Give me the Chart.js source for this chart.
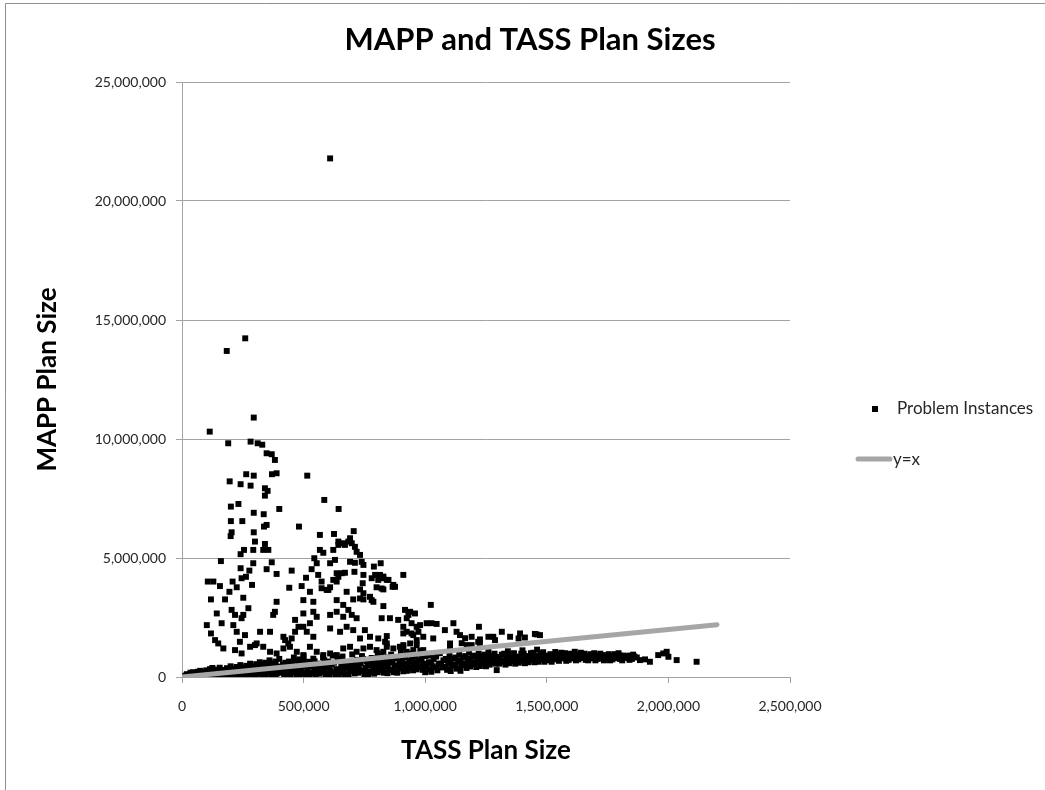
<!DOCTYPE html>
<html>
<head>
<meta charset="utf-8">
<title>MAPP and TASS Plan Sizes</title>
<script src="https://cdn.jsdelivr.net/npm/chart.js@4.4.1/dist/chart.umd.min.js"></script>
<style>
  html, body { margin: 0; padding: 0; background: #fff; }
  #chart { display: block; }
</style>
</head>
<body>
<canvas id="chart" width="1045" height="790"></canvas>
<script>
// Pontos, em milhares: [TASS plan size, MAPP plan size]
const outlierPoints = [[609,21790],[260,14230],[184,13700],[295,10900],[114,10310]];

const upperCluster = [
  [190,9820],[282,9890],[311,9820],[330,9760],[348,9400],[369,9360],[382,9120],
  [264,8520],[295,8460],[370,8520],[389,8560],[515,8460],[196,8220],[241,8100],[282,8040],
  [341,7930],[352,7820],[341,7620],[585,7440],[201,7160],[232,7270],[400,7060],[644,7060],
  [295,6900],[336,6840],[201,6550],[248,6550],[348,6390],[337,6320],[481,6320],
  [204,6080],[200,5920],[295,6080],[567,5970],[625,6010],[706,6130],
  [643,5690],[663,5620],[643,5550],[691,5830],[698,5620],[670,5550],[684,5690],
  [300,5690],[341,5590],[293,5340],[334,5340],[355,5340],[255,5340],[241,5160],
  [567,5340],[581,5220],[622,5340],[711,5470],[718,5260],[732,5130]
];

const midCluster = [
  [160,4870],[544,4990],[554,4780],[609,4780],[629,4920],[691,4840],[711,4800],[739,4840],[746,4710],
  [293,4780],[369,4820],[817,4780],[789,4640],[241,4570],[277,4470],[263,4210],[245,4150],
  [348,4530],[389,4330],[451,4470],[533,4530],[560,4290],[574,4010],[636,4360],[657,4360],[670,4380],
  [622,4080],[636,4010],[709,4420],[746,4290],[780,4150],[794,4290],[807,4080],[828,4220],[849,4080],
  [910,4290],[814,4290],[828,4150],[510,4170],[643,4210],[743,3940],[842,4080],[602,3660],
  [106,4010],[129,4010],[156,3820],[208,4010],[225,3770],[195,3580],[288,3870],[441,3750],[492,3820],
  [574,3730],[595,3660],[609,3770],[526,3580],[677,3580],[732,3680],[746,3520],[800,3770],[828,3680],
  [866,3790],[869,3870],[876,3790],[821,3720],
  [119,3260],[177,3260],[252,3330],[389,3160],[499,3230],[540,3160],[636,3230],[663,3030],[704,3260],
  [732,3300],[746,3260],[773,3370],[780,3230],[787,3160],[828,2980],[1023,3030]
];

const lowerCluster = [
  [204,2820],[218,2610],[273,2890],[252,2610],[245,2470],[143,2670],[163,2260],[382,2740],[375,2610],
  [499,2670],[540,2740],[554,2530],[609,2610],[636,2740],[663,2530],[684,2820],[698,2610],[718,2470],
  [821,2470],[855,2470],[889,2400],[917,2820],[931,2610],[958,2670],[938,2740],[924,2470],[944,2260],
  [965,2110],[979,2180],
  [102,2180],[119,1830],[136,1550],[211,2180],[225,1900],[259,1760],[238,1480],[321,1900],[362,1900],
  [300,1340],[280,1270],[465,2400],[479,2110],[465,1900],[499,2110],[513,1900],[526,2260],[540,1690],
  [417,1690],[424,1550],[437,1410],[451,1620],[609,2040],[650,1900],[677,2110],[704,1970],[732,1620],
  [752,1970],[773,1690],[807,1620],[842,1720],[910,2110],[924,1900],[944,1830],[972,1900],[965,1550],
  [938,1410],[1006,2260],[1026,2260],[1047,2230],[1116,2260],[1081,1970],[1221,2110],
  [1315,1900],[1390,1830],[1458,1790],[1472,1760],[1129,1900],[1143,1760],[1191,1690],[1225,1580],
  [1260,1690],[1287,1550],[910,1830],[951,1760],[992,1690],[1033,1620],[1349,1690],[1384,1620],
  [1410,1660],[1164,1630],[1280,1690],[1451,1810],
  [910,1340],[965,1340],[1102,1410],[1171,1340],[1225,1410],[992,1130],[1102,1270],[1150,1420],
  [1191,1340],[1218,1480],[910,1250],[835,1480],[842,1270],[828,1060],
  [149,1410],[170,1200],[218,1130],[245,990],[307,1410],[334,1270],[362,1060],[389,990],[417,1200],
  [444,1270],[472,1060],[499,920],[526,1270],[554,1060],[581,920],[609,990],[636,920],[663,1200],
  [691,1270],[718,1060],[746,1200],[773,1270],[800,1130],[842,1410],[869,1200],[896,1270],[924,1060],
  [951,1130]
];

// faixa densa junto ao eixo X
const bandNear = [
  [10,20],[15,60],[30,10],[40,90],[45,200],[60,40],[70,140],[75,260],[90,70],[95,210],[110,130],
  [115,330],[130,40],[135,240],[150,170],[155,390],[170,80],[175,300],[190,30],[195,200],[200,450],
  [210,130],[215,340],[230,60],[235,270],[240,500],[250,180],[255,400],[270,90],[275,310],[280,560],
  [290,30],[295,230],[300,450],[310,150],[315,370],[320,620],[330,70],[335,290],[340,520],[350,200],
  [355,430],[360,700],[370,50],[375,320],[380,570],[390,150],[395,440],[400,760],[410,250],[415,530],
  [430,90],[435,370],[440,650],[450,190],[455,470],[460,820],[470,110],[475,330],[480,600],[490,250],
  [495,530],[500,880],
  [20,120],[25,30],[35,180],[50,100],[55,10],[65,220],[80,20],[85,170],[100,280],[105,40],[120,200],
  [125,380],[140,110],[145,310],[160,30],[165,230],[180,160],[185,370],[200,70],[205,290],[220,220],
  [225,420],[225,20],[245,110],[245,340],[260,260],[265,40],[265,470],[285,150],[285,390],[305,60],
  [305,300],[305,540],[325,210],[325,440],[345,120],[345,360],[345,600],[365,240],[365,490],[385,80],
  [385,330],[385,650],[405,180],[405,420],[420,40],[420,320],[425,600],[445,120],[445,300],[445,560],
  [465,240],[465,420],[465,700],[485,60],[485,390],[485,740],[500,160],[500,650]
];

const bandMid = [
  [510,60],[515,300],[520,640],[530,170],[535,430],[540,770],[550,80],[555,330],[560,560],[570,220],
  [575,480],[580,830],[590,120],[595,380],[600,650],[610,260],[615,520],[620,900],[630,70],[635,330],
  [640,700],[650,200],[655,450],[660,860],[670,110],[675,380],[680,620],[690,250],[695,520],[700,950],
  [710,150],[715,420],[720,720],[730,300],[735,560],[740,880],[750,100],[755,380],[760,650],[770,220],
  [775,480],[780,800],[790,140],[795,420],[800,700],[805,1000],[810,280],[815,560],[820,860],[830,180],
  [835,440],[840,720],[850,320],[855,600],[860,940],[870,200],[875,480],[880,780],[890,360],[895,620],
  [900,1050],[910,240],[915,500],[920,820],[930,380],[935,660],[940,980],[950,280],[955,540],[960,860],
  [970,400],[975,700],[980,1100],[990,300],[995,560],[1000,880],
  [505,450],[525,100],[525,540],[545,250],[545,660],[565,140],[565,400],[585,300],[585,700],[605,50],
  [605,430],[625,200],[625,600],[645,100],[645,300],[645,780],[665,240],[665,520],[685,70],[685,440],
  [705,320],[705,620],[725,180],[725,480],[745,250],[745,760],[765,120],[765,560],[785,330],[785,620],
  [805,200],[805,480],[825,360],[825,620],[845,160],[845,500],[845,820],[865,300],[865,640],[885,180],
  [885,480],[905,380],[905,700],[925,260],[925,560],[945,420],[945,760],[965,320],[965,620],[985,460],
  [985,760],[1000,200]
];

const bandFar = [
  [1010,320],[1015,620],[1020,900],[1030,450],[1035,760],[1050,280],[1055,560],[1060,1000],[1070,400],
  [1075,700],[1090,300],[1095,600],[1100,880],[1110,480],[1115,780],[1130,350],[1135,640],[1140,950],
  [1150,500],[1155,820],[1170,380],[1175,680],[1180,1020],[1190,540],[1195,860],[1210,420],[1215,720],
  [1220,980],[1230,560],[1235,880],[1250,450],[1255,740],[1260,1050],[1270,600],[1275,900],[1290,560],
  [1294,290],[1295,780],[1310,640],[1315,940],[1330,520],[1335,800],[1340,1080],[1350,660],[1355,950],
  [1370,560],[1375,820],[1390,680],[1395,980],[1400,1120],[1410,580],[1415,840],[1430,700],[1435,1000],
  [1450,620],[1455,880],[1460,1150],[1470,720],[1475,960],[1490,640],[1495,900],
  [1005,480],[1025,220],[1025,600],[1045,400],[1045,860],[1065,560],[1085,420],[1085,760],[1105,250],
  [1105,640],[1125,520],[1125,820],[1145,260],[1145,700],[1165,560],[1165,880],[1185,440],[1185,760],
  [1205,620],[1205,900],[1225,460],[1225,800],[1245,640],[1245,940],[1265,520],[1265,820],[1285,680],
  [1285,980],[1305,560],[1305,840],[1325,700],[1325,980],[1345,580],[1345,860],[1365,720],[1365,1000],
  [1385,600],[1385,860],[1405,740],[1405,980],[1425,620],[1425,880],[1445,760],[1445,1020],[1465,640],
  [1465,860],[1485,760],[1485,1040]
];

const bandTail = [
  [1510,700],[1515,960],[1530,820],[1535,1050],[1550,680],[1555,920],[1570,780],[1575,1000],[1590,720],
  [1595,940],[1610,850],[1615,1060],[1630,740],[1635,900],[1650,800],[1655,980],[1670,700],[1675,880],
  [1690,820],[1695,1000],[1710,760],[1715,920],[1730,860],[1735,700],[1750,800],[1755,960],[1770,740],
  [1775,880],[1790,820],[1795,1000],[1810,700],[1815,900],[1830,860],[1850,760],[1855,940],[1870,820],
  [1883,710],[1904,740],[1924,640],[1958,920],[1979,990],[1993,1060],[2000,850],[2034,710],[2116,640],
  [1500,820],[1520,640],[1520,900],[1540,740],[1540,960],[1560,820],[1560,1020],[1580,680],[1580,900],
  [1600,780],[1600,980],[1620,700],[1620,940],[1640,820],[1640,1020],[1660,720],[1660,900],[1680,780],
  [1680,960],[1700,700],[1700,900],[1720,820],[1720,980],[1740,780],[1740,920],[1760,700],[1760,860],
  [1780,800],[1780,960],[1800,760],[1800,900],[1820,800],[1840,720],[1840,900],[1860,860]
];

// linha y=x (valores de TASS nas extremidades)
const identityEnds = [0, 2200000];

const xTicks = [0, 500000, 1000000, 1500000, 2000000, 2500000];
const yTicks = [0, 5000000, 10000000, 15000000, 20000000, 25000000];

const FONT = 'Lato, "Open Sans", "DejaVu Sans", sans-serif';
const GRID = '#a3a3a3';
const TEXT = '#262626';

const toPoints = list => list.map(([x, y]) => ({ x: x * 1000, y: y * 1000 }));

const scatterPoints = [
  ...outlierPoints, ...upperCluster, ...midCluster, ...lowerCluster,
  ...bandNear, ...bandMid, ...bandFar, ...bandTail
];

/**
 * Fundo, moldura, título e legenda no estilo do gráfico original
 */
const decorPlugin = {
  id: 'decor',
  beforeDraw(chart) {
    const { ctx, width, height } = chart;
    ctx.save();
    ctx.fillStyle = '#fff';
    ctx.fillRect(0, 0, width, height);
    ctx.strokeStyle = '#8f8f8f';
    ctx.lineWidth = 1;
    ctx.beginPath();
    ctx.moveTo(5.5, height);
    ctx.lineTo(5.5, 3.5);
    ctx.lineTo(width, 3.5);
    ctx.stroke();
    ctx.restore();
  },
  afterDraw(chart) {
    const { ctx } = chart;
    ctx.save();
    // título
    ctx.fillStyle = '#000';
    ctx.font = `bold 31px ${FONT}`;
    ctx.textAlign = 'center';
    ctx.textBaseline = 'middle';
    ctx.fillText('MAPP and TASS Plan Sizes', 530, 40);

    // legenda
    ctx.textAlign = 'left';
    ctx.font = `17px ${FONT}`;
    ctx.fillStyle = '#000';
    ctx.fillRect(872, 406, 6, 6);
    ctx.fillStyle = TEXT;
    ctx.fillText('Problem Instances', 897, 409);

    ctx.strokeStyle = '#a6a6a6';
    ctx.lineWidth = 5;
    ctx.lineCap = 'round';
    ctx.beginPath();
    ctx.moveTo(858, 459);
    ctx.lineTo(890, 459);
    ctx.stroke();
    ctx.fillText('y=x', 893, 460);
    ctx.restore();
  }
};

const axisLabel = v => Number(v).toLocaleString('en-US');

new Chart(document.getElementById('chart'), {
  type: 'scatter',
  data: {
    datasets: [
      {
        label: 'y=x',
        data: identityEnds.map(v => ({ x: v, y: v })),
        showLine: true,
        borderColor: '#a6a6a6',
        borderWidth: 5,
        borderCapStyle: 'round',
        pointRadius: 0,
        order: 0
      },
      {
        label: 'Problem Instances',
        data: toPoints(scatterPoints),
        pointStyle: 'rect',
        pointRadius: 4.2,
        pointBorderWidth: 0,
        backgroundColor: '#000',
        borderColor: '#000',
        order: 1
      }
    ]
  },
  options: {
    responsive: false,
    animation: false,
    events: [],
    layout: { padding: { top: 82, right: 255, bottom: 0, left: 0 } },
    plugins: {
      legend: { display: false },
      tooltip: { enabled: false },
      title: { display: false }
    },
    scales: {
      x: {
        type: 'linear',
        min: 0,
        max: 2500000,
        afterBuildTicks: scale => { scale.ticks = xTicks.map(value => ({ value })); },
        afterFit: scale => { scale.height = 113; },
        ticks: {
          padding: 15,
          maxRotation: 0,
          color: TEXT,
          font: { family: FONT, size: 14 },
          callback: axisLabel
        },
        grid: { drawOnChartArea: false, drawTicks: true, tickLength: 6, color: GRID },
        border: { display: true, color: GRID, width: 1 },
        title: {
          display: true,
          text: 'TASS Plan Size',
          color: '#000',
          font: { family: FONT, size: 26, weight: 'bold' },
          padding: { top: 0, bottom: 24 }
        }
      },
      y: {
        type: 'linear',
        min: 0,
        max: 25000000,
        afterBuildTicks: scale => { scale.ticks = yTicks.map(value => ({ value })); },
        afterFit: scale => { scale.width = 182; },
        ticks: {
          padding: 10,
          color: TEXT,
          font: { family: FONT, size: 14 },
          callback: axisLabel
        },
        grid: { drawTicks: true, tickLength: 6, color: GRID },
        border: { display: true, color: GRID, width: 1 },
        title: {
          display: true,
          text: 'MAPP Plan Size',
          color: '#000',
          font: { family: FONT, size: 26, weight: 'bold' },
          padding: { top: 32, bottom: 0 }
        }
      }
    }
  },
  plugins: [decorPlugin]
});
</script>
</body>
</html>
